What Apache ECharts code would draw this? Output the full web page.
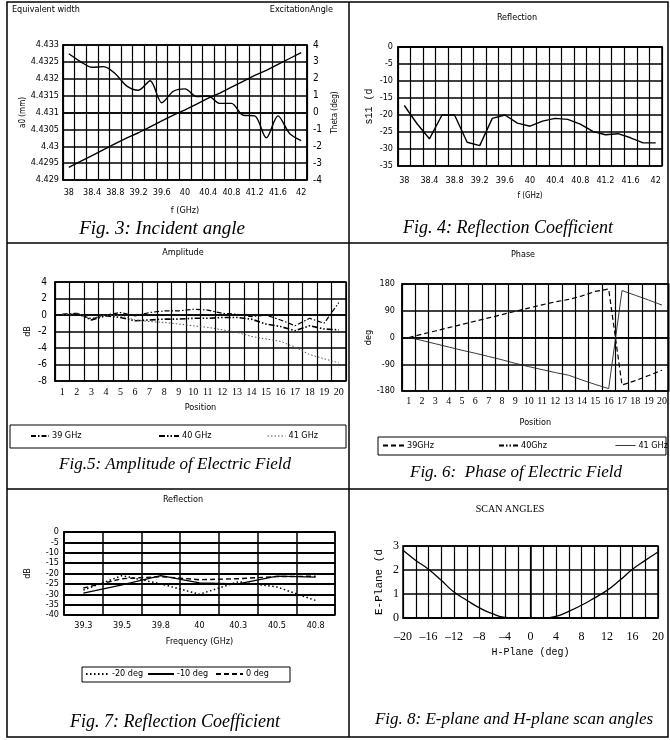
<!DOCTYPE html>
<html><head><meta charset="utf-8">
<script src="https://cdn.jsdelivr.net/npm/echarts@6/dist/echarts.min.js"></script>
<style>html,body{margin:0;padding:0;background:#fff}#c{width:670px;height:740px}</style>
</head><body><div id="c"></div>
<script>
// ---------- Fig. 3 ----------
const fig3Freq = ['38','38.2','38.4','38.6','38.8','39','39.2','39.4','39.6','39.8','40','40.2','40.4','40.6','40.8','41','41.2','41.4','41.6','41.8','42'];
const fig3Width = [4.43274,4.43251,4.43234,4.43236,4.43215,4.43178,4.43166,4.43194,4.43129,4.43163,4.4317,4.43147,4.43149,4.43127,4.43127,4.43092,4.4309,4.43025,4.4309,4.43038,4.43017];
const fig3Angle = [-3.25,-2.9,-2.55,-2.2,-1.85,-1.5,-1.2,-0.85,-0.5,-0.15,0.15,0.5,0.85,1.15,1.5,1.85,2.2,2.5,2.85,3.2,3.55];
const fig3WidthTicks = ['4.429','4.4295','4.43','4.4305','4.431','4.4315','4.432','4.4325','4.433'];
// ---------- Fig. 4 ----------
const fig4Freq = ['38','38.2','38.4','38.6','38.8','39','39.2','39.4','39.6','39.8','40','40.2','40.4','40.6','40.8','41','41.2','41.4','41.6','41.8','42'];
const fig4S11 = [-17.2,-22.5,-27,-20,-20,-28,-29,-21,-20,-22.4,-23.3,-21.8,-21,-21.3,-22.7,-24.8,-25.8,-25.5,-26.7,-28.2,-28.2];
// ---------- Fig. 5 ----------
const fig5Pos = ['1','2','3','4','5','6','7','8','9','10','11','12','13','14','15','16','17','18','19','20'];
const fig5A39 = [0.1,0.2,-0.5,0,0.3,-0.1,0.3,0.5,0.5,0.7,0.6,0.2,0.1,-0.2,0,-0.6,-1.3,-0.4,-1.0,1.5];
const fig5A40 = [0,0.2,-0.6,-0.1,-0.3,-0.7,-0.6,-0.5,-0.5,-0.4,-0.4,-0.3,-0.3,-0.5,-1.1,-1.4,-1.9,-1.3,-1.7,-1.8];
const fig5A41 = [0,0.2,-0.4,0,-0.1,-0.6,-0.8,-0.9,-1.1,-1.3,-1.5,-1.8,-2.1,-2.6,-2.9,-3.2,-3.9,-4.8,-5.3,-5.8];
// ---------- Fig. 6 ----------
const fig6Pos = ['1','2','3','4','5','6','7','8','9','10','11','12','13','14','15','16','17','18','19','20'];
const fig6P39 = [0,11,22,33,44,55,66,77,88,99,110,120,128,140,155,163,-160,-145,-128,-110];
const fig6P40 = [0,0,0,0,0,0,0,0,0,0,0,0,0,0,0,0,0,0,0,0];
const fig6P41 = [0,-10,-21,-32,-43,-53,-64,-75,-87,-98,-108,-118,-127,-143,-158,-172,158,142,126,109];
// ---------- Fig. 7 ----------
const fig7Freq = ['39.3','39.5','39.8','40','40.3','40.5','40.8'];
const fig7M20 = [-28,-21,-25,-30,-24,-26.5,-33];
const fig7M10 = [-29.5,-25.5,-21,-24.5,-25,-21.3,-21.7];
const fig7Z0 = [-27,-22.5,-21.5,-23,-22.5,-21.5,-21.3];
// ---------- Fig. 8 ----------
const fig8H = [-20,-18,-16,-14,-12,-10,-8,-6,-4,-2,0,2,4,6,8,10,12,14,16,18,20];
const fig8E = [2.82,2.4,2.03,1.57,1.08,0.74,0.42,0.18,0.03,0,0,0,0.07,0.28,0.53,0.83,1.15,1.57,2.03,2.4,2.75];
const fig8HTicks = ['\u201320','\u201316','\u201312','\u20138','\u20134','0','4','8','12','16','20'];

const F = '"Liberation Sans Narrow","DejaVu Sans Condensed","Liberation Sans",sans-serif';
const SERIF = '"Liberation Serif","DejaVu Serif",serif';
const MONO = '"Liberation Mono","DejaVu Sans Mono",monospace';
const K = '#000';

function lbl(size, fam, margin, extra) {
  return Object.assign({color: K, fontSize: size, fontFamily: fam || F, margin: margin}, extra || {});
}
function nameStyle(size, fam) { return {color: K, fontSize: size, fontFamily: fam || F}; }
const axLine = {show: true, lineStyle: {color: K, width: 1.5}};
function split(w, show) { return {show: show !== false, interval: 0, lineStyle: {color: K, width: w}}; }

const grids = [
  {left: 63, top: 45, width: 244, height: 135},
  {left: 398, top: 47, width: 264, height: 119},
  {left: 55, top: 282, width: 291, height: 99},
  {left: 402, top: 284, width: 267, height: 107},
  {left: 64, top: 532, width: 271, height: 83},
  {left: 403, top: 546, width: 255, height: 72}
].map(g => Object.assign({show: true, borderColor: K, borderWidth: 1.5, containLabel: false}, g));

const xAxis = [
  {type: 'category', gridIndex: 0, data: fig3Freq, boundaryGap: true, axisLine: axLine, axisTick: {show: false},
   axisLabel: lbl(9, F, 8, {interval: 1}), splitLine: split(1.2),
   name: 'f (GHz)', nameLocation: 'middle', nameGap: 26, nameTextStyle: nameStyle(9)},
  {type: 'category', gridIndex: 1, data: fig4Freq, boundaryGap: true, axisLine: axLine, axisTick: {show: false},
   axisLabel: lbl(9, F, 10, {interval: 1}), splitLine: split(1.2),
   name: 'f (GHz)', nameLocation: 'middle', nameGap: 26, nameTextStyle: nameStyle(8)},
  {type: 'category', gridIndex: 2, data: fig5Pos, boundaryGap: true, axisLine: axLine, axisTick: {show: false},
   axisLabel: lbl(10, SERIF, 6, {interval: 0}), splitLine: split(1.2),
   name: 'Position', nameLocation: 'middle', nameGap: 22, nameTextStyle: nameStyle(9)},
  {type: 'category', gridIndex: 3, data: fig6Pos, boundaryGap: true, axisLine: axLine, axisTick: {show: false},
   axisLabel: lbl(10, SERIF, 5, {interval: 0}), splitLine: split(1.2),
   name: 'Position', nameLocation: 'middle', nameGap: 27, nameTextStyle: nameStyle(9)},
  {type: 'category', gridIndex: 4, data: fig7Freq, boundaryGap: true, axisLine: axLine, axisTick: {show: false},
   axisLabel: lbl(9, F, 6, {interval: 0}), splitLine: split(1.5),
   name: 'Frequency (GHz)', nameLocation: 'middle', nameGap: 22, nameTextStyle: nameStyle(9)},
  {type: 'value', gridIndex: 5, min: -20, max: 20, interval: 2, axisLine: axLine, axisTick: {show: false},
   axisLabel: lbl(12, SERIF, 13, {formatter: v => { const i = (v + 20) / 4; return Number.isInteger(i) ? fig8HTicks[i] : ''; }}),
   splitLine: split(1.2),
   name: 'H-Plane (deg)', nameLocation: 'middle', nameGap: 29, nameTextStyle: nameStyle(10, MONO)}
];

const yAxis = [
  {type: 'value', gridIndex: 0, min: 4.429, max: 4.433, interval: 0.0005, axisLine: axLine, axisTick: {show: false},
   axisLabel: lbl(9, F, 4, {formatter: v => fig3WidthTicks[Math.round((v - 4.429) / 0.0005)]}),
   splitLine: split(1.5), name: 'a0 (mm)', nameLocation: 'middle', nameRotate: 90, nameGap: 12, nameTextStyle: nameStyle(8)},
  {type: 'value', gridIndex: 0, position: 'right', min: -4, max: 4, interval: 1, axisLine: axLine, axisTick: {show: false},
   axisLabel: lbl(10, F, 6), splitLine: {show: false},
   name: 'Theta (deg)', nameLocation: 'middle', nameRotate: 90, nameGap: 24, nameTextStyle: nameStyle(8)},
  {type: 'value', gridIndex: 1, min: -35, max: 0, interval: 5, axisLine: axLine, axisTick: {show: false},
   axisLabel: lbl(9, F, 5), splitLine: split(1.5),
   name: 's11 (d', nameLocation: 'middle', nameRotate: 90, nameGap: 24, nameTextStyle: nameStyle(10, MONO)},
  {type: 'value', gridIndex: 2, min: -8, max: 4, interval: 2, axisLine: axLine, axisTick: {show: false},
   axisLabel: lbl(10, F, 8), splitLine: split(1.5),
   name: 'dB', nameLocation: 'middle', nameRotate: 90, nameGap: 23, nameTextStyle: nameStyle(9)},
  {type: 'value', gridIndex: 3, min: -180, max: 180, interval: 90, axisLine: axLine, axisTick: {show: false},
   axisLabel: lbl(9, F, 7), splitLine: split(1.5),
   name: 'deg', nameLocation: 'middle', nameRotate: 90, nameGap: 28, nameTextStyle: nameStyle(9)},
  {type: 'value', gridIndex: 4, min: -40, max: 0, interval: 5, axisLine: axLine, axisTick: {show: false},
   axisLabel: lbl(9, F, 5), splitLine: split(1.8),
   name: 'dB', nameLocation: 'middle', nameRotate: 90, nameGap: 32, nameTextStyle: nameStyle(9)},
  {type: 'value', gridIndex: 5, min: 0, max: 3, interval: 1, axisLine: axLine, axisTick: {show: false},
   axisLabel: lbl(12, SERIF, 4), splitLine: split(1.5),
   name: 'E-Plane (d', nameLocation: 'middle', nameRotate: 90, nameGap: 18, nameTextStyle: nameStyle(11, MONO)}
];

function ln(name, xi, yi, data, style, extra) {
  return Object.assign({type: 'line', name: name, xAxisIndex: xi, yAxisIndex: yi, data: data, symbol: 'none',
    lineStyle: Object.assign({color: K, width: 1.3}, style), itemStyle: {color: style.color || K},
    animation: false, silent: true}, extra || {});
}

const series = [
  ln('Equivalent width', 0, 0, fig3Width, {width: 1.4}, {smooth: 0.3}),
  ln('Excitation Angle', 0, 1, fig3Angle, {width: 1.4}),
  ln('s11', 1, 2, fig4S11, {width: 1.4}),
  ln('39 GHz', 2, 3, fig5A39, {width: 1.2, type: [5, 2, 1.5, 2]}),
  ln('40 GHz', 2, 3, fig5A40, {width: 1.6, type: [6, 2, 1.5, 2, 1.5, 2]}),
  ln('41 GHz', 2, 3, fig5A41, {width: 1, color: '#555', type: [1.5, 2]}),
  ln('39GHz', 3, 4, fig6P39, {width: 1.2, type: [5, 3]}),
  ln('40Ghz', 3, 4, fig6P40, {width: 1.2, type: [5, 2, 1.5, 2, 1.5, 2]}),
  ln('41 GHz', 3, 4, fig6P41, {width: 0.9, color: '#222'}),
  ln('-20 deg', 4, 5, fig7M20, {width: 1.5, type: [1.5, 2.5]}),
  ln('-10 deg', 4, 5, fig7M10, {width: 1.3}),
  ln('0 deg', 4, 5, fig7Z0, {width: 1.4, type: [5, 3]}),
  ln('E-Plane', 5, 6, fig8H.map((h, i) => [h, fig8E[i]]), {width: 1.3}, {smooth: true})
];

const hideSym = {color: 'rgba(0,0,0,0)', borderColor: 'rgba(0,0,0,0)', borderWidth: 0};
function leg(name, x, yc, w, extraItem) {
  return {data: [Object.assign({name: name, itemStyle: hideSym}, extraItem || {})], left: x, top: yc - 5, itemWidth: w, itemHeight: 10,
    itemGap: 0, padding: 0, selectedMode: false, itemStyle: hideSym,
    textStyle: {color: K, fontSize: 9, fontFamily: F, padding: [0, 0, 0, -2]}};
}
const legend = [
  leg('39 GHz', 30, 436.5, 18),
  leg('40 GHz', 158, 436.5, 20),
  leg('41 GHz', 267, 436.5, 18, {lineStyle: {type: [1.5, 2], color: '#555', width: 1}}),
  leg('39GHz', 382, 446, 21),
  leg('40Ghz', 498, 446, 19),
  leg('41 GHz', 615, 446, 20, {lineStyle: {type: 'solid', color: '#222', width: 0.9}}),
  leg('-20 deg', 85, 674.5, 23),
  leg('-10 deg', 147, 674.5, 26),
  leg('0 deg', 215, 674.5, 27)
];

const tstyle = {color: K, fontSize: 9, fontWeight: 'normal', fontFamily: F};
const title = [
  {text: 'Equivalent width', left: 12, top: 5, padding: 0, textStyle: tstyle},
  {text: 'ExcitationAngle', right: 337, top: 5, padding: 0, textStyle: tstyle},
  {text: 'Reflection', left: 517, top: 13, textAlign: 'center', padding: 0, textStyle: tstyle},
  {text: 'Amplitude', left: 183, top: 248, textAlign: 'center', padding: 0, textStyle: tstyle},
  {text: 'Phase', left: 523, top: 250, textAlign: 'center', padding: 0, textStyle: tstyle},
  {text: 'Reflection', left: 183, top: 495, textAlign: 'center', padding: 0, textStyle: tstyle},
  {text: 'SCAN ANGLES', left: 510, top: 504, textAlign: 'center', padding: 0,
   textStyle: {color: K, fontSize: 10, fontWeight: 'normal', fontFamily: SERIF}}
];

function cap(t, x, y, size) {
  return {type: 'text', x: x, y: y, silent: true,
    style: {text: t, font: 'italic ' + size + 'px "Liberation Serif","DejaVu Serif",serif', fill: K, textAlign: 'center', textVerticalAlign: 'middle'}};
}
const bstroke = {fill: 'none', stroke: K, lineWidth: 1.5};
const graphic = [
  {type: 'rect', shape: {x: 7, y: 2, width: 661, height: 735}, style: bstroke, silent: true},
  {type: 'line', shape: {x1: 349, y1: 2, x2: 349, y2: 737}, style: {stroke: K, lineWidth: 1.5}, silent: true},
  {type: 'line', shape: {x1: 7, y1: 243, x2: 668, y2: 243}, style: {stroke: K, lineWidth: 1.5}, silent: true},
  {type: 'line', shape: {x1: 7, y1: 489, x2: 668, y2: 489}, style: {stroke: K, lineWidth: 1.5}, silent: true},
  {type: 'rect', shape: {x: 10, y: 425, width: 336, height: 23}, style: {fill: 'none', stroke: K, lineWidth: 1}, silent: true},
  {type: 'rect', shape: {x: 378, y: 437, width: 288, height: 18}, style: {fill: 'none', stroke: K, lineWidth: 1}, silent: true},
  {type: 'rect', shape: {x: 82, y: 667, width: 208, height: 15}, style: {fill: 'none', stroke: K, lineWidth: 1}, silent: true},
  cap('Fig. 3: Incident angle', 162, 229, 19),
  cap('Fig. 4: Reflection Coefficient', 508, 228, 18),
  cap('Fig.5: Amplitude of Electric Field', 175, 465, 17),
  cap('Fig. 6:  Phase of Electric Field', 516, 473, 17),
  cap('Fig. 7: Reflection Coefficient', 175, 722, 18),
  cap('Fig. 8: E-plane and H-plane scan angles', 514, 720, 17)
];

const chart = echarts.init(document.getElementById('c'), null, {renderer: 'canvas'});
chart.setOption({backgroundColor: '#fff', animation: false, title, grid: grids, xAxis, yAxis, series, legend, graphic});
</script></body></html>
